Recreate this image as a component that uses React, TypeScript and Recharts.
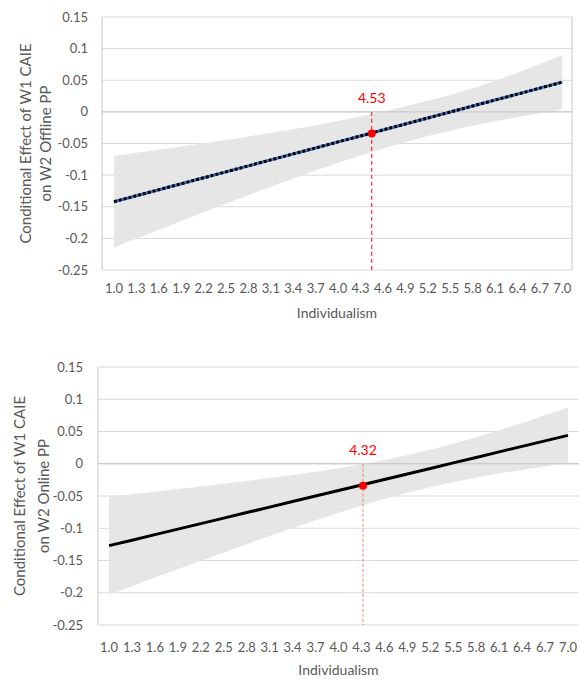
import {
  ComposedChart,
  Area,
  Line,
  XAxis,
  YAxis,
  CartesianGrid,
  ReferenceLine,
  ReferenceDot,
  Label,
} from 'recharts';

const individualism = [
  1.0, 1.3, 1.6, 1.9, 2.2, 2.5, 2.8, 3.1, 3.4, 3.7, 4.0, 4.3, 4.6, 4.9, 5.2, 5.5, 5.8, 6.1, 6.4, 6.7, 7.0,
];
const yTicks = [-0.25, -0.2, -0.15, -0.1, -0.05, 0, 0.05, 0.1, 0.15];

// W2 Offline PP
const offlineEffect = [
  -0.142, -0.1326, -0.1231, -0.1137, -0.1042, -0.0948, -0.0853, -0.0759, -0.0664, -0.057, -0.0475,
  -0.0381, -0.0286, -0.0192, -0.0097, -0.0003, 0.0092, 0.0187, 0.0281, 0.0376, 0.047,
];
const offlineLower = [
  -0.2143, -0.2003, -0.1864, -0.1725, -0.1588, -0.1452, -0.1317, -0.1184, -0.1054, -0.0928, -0.0805,
  -0.0688, -0.0578, -0.0476, -0.0383, -0.0298, -0.022, -0.0149, -0.0084, -0.0023, 0.0036,
];
const offlineUpper = [
  -0.0697, -0.0648, -0.0598, -0.0548, -0.0496, -0.0443, -0.0389, -0.0333, -0.0274, -0.0211, -0.0145,
  -0.0073, 0.0006, 0.0088, 0.0175, 0.0268, 0.0372, 0.049, 0.062, 0.0758, 0.0898,
];

// W2 Online PP
const onlineEffect = [
  -0.127, -0.1185, -0.1099, -0.1014, -0.0928, -0.0843, -0.0757, -0.0672, -0.0586, -0.0501, -0.0415,
  -0.033, -0.0244, -0.0159, -0.0073, 0.0013, 0.0098, 0.0184, 0.0269, 0.0355, 0.044,
];
const onlineLower = [
  -0.203, -0.1898, -0.1765, -0.1634, -0.1504, -0.1375, -0.1247, -0.1121, -0.0998, -0.0877, -0.0762,
  -0.0651, -0.0547, -0.0451, -0.0363, -0.0285, -0.0215, -0.0152, -0.0095, -0.0043, 0.0006,
];
const onlineUpper = [
  -0.051, -0.0472, -0.0433, -0.0393, -0.0352, -0.0311, -0.0267, -0.0222, -0.0174, -0.0124, -0.0068,
  -0.0008, 0.0059, 0.0134, 0.0217, 0.031, 0.0411, 0.0519, 0.0633, 0.0752, 0.0874,
];

const FONT = 'Lato, "Open Sans", sans-serif';
const TEXT = '#595959';
const GRID = '#d9d9d9';

function buildRows(effect: number[], lower: number[], upper: number[]) {
  return individualism.map((x, i) => ({
    x,
    effect: effect[i],
    band: [lower[i], upper[i]],
  }));
}

function YTitle({ viewBox, lines, xs }: { viewBox?: any; lines: string[]; xs: number[] }) {
  const cy = viewBox.y + viewBox.height / 2;
  return (
    <g>
      {lines.map((line, i) => (
        <text
          key={line}
          x={xs[i]}
          y={cy}
          transform={`rotate(-90 ${xs[i]} ${cy})`}
          textAnchor="middle"
          dominantBaseline="central"
          fill={TEXT}
          fontSize={15}
          fontFamily={FONT}
        >
          {line}
        </text>
      ))}
    </g>
  );
}

interface EffectChartProps {
  height: number;
  margin: { top: number; right: number; bottom: number; left: number };
  yAxisWidth: number;
  yTickMargin: number;
  xTickMargin: number;
  xTitleOffset: number;
  xDomain: [number, number];
  titleLines: string[];
  titleXs: number[];
  effect: number[];
  lower: number[];
  upper: number[];
  markerX: number;
  markerY: number;
  markerLabel: string;
  dashed: boolean;
  guideColor: string;
  guideDash: string;
  boxed: boolean;
}

function EffectChart(p: EffectChartProps) {
  const rows = buildRows(p.effect, p.lower, p.upper);
  return (
    <ComposedChart width={579} height={p.height} data={rows} margin={p.margin}>
      <CartesianGrid horizontal vertical={false} stroke={GRID} strokeWidth={1} />
      <XAxis
        dataKey="x"
        type="number"
        domain={p.xDomain}
        ticks={individualism}
        interval={0}
        tickFormatter={(v: number) => v.toFixed(1)}
        axisLine={false}
        tickLine={false}
        tickSize={0}
        tickMargin={p.xTickMargin}
        height={46}
        tick={{ fill: TEXT, fontSize: 13, fontFamily: FONT }}
      >
        <Label
          value="Individualism"
          position="insideBottom"
          offset={p.xTitleOffset}
          fill={TEXT}
          fontSize={14}
          fontFamily={FONT}
        />
      </XAxis>
      <YAxis
        type="number"
        domain={[-0.25, 0.15]}
        ticks={yTicks}
        interval={0}
        allowDataOverflow
        tickFormatter={(v: number) => String(v)}
        width={p.yAxisWidth}
        axisLine={{ stroke: '#c8c8c8' }}
        tickLine={false}
        tickSize={0}
        tickMargin={p.yTickMargin}
        tick={{ fill: TEXT, fontSize: 13, fontFamily: FONT }}
      >
        <Label content={(props: any) => <YTitle {...props} lines={p.titleLines} xs={p.titleXs} />} />
      </YAxis>
      <Area
        dataKey="band"
        type="linear"
        fill="#e6e6e6"
        fillOpacity={1}
        stroke="none"
        isAnimationActive={false}
      />
      <ReferenceLine y={0} stroke="#c4c4c4" strokeWidth={1} />
      {p.boxed && <ReferenceLine x={p.xDomain[1]} stroke="#c8c8c8" />}
      {p.dashed ? (
        <Line
          dataKey="effect"
          type="linear"
          stroke="#4472c4"
          strokeWidth={3}
          dot={false}
          isAnimationActive={false}
        />
      ) : null}
      <Line
        dataKey="effect"
        type="linear"
        stroke="#000000"
        strokeWidth={3}
        strokeDasharray={p.dashed ? '3 2' : undefined}
        dot={false}
        isAnimationActive={false}
      />
      <ReferenceLine
        segment={[
          { x: p.markerX, y: 0 },
          { x: p.markerX, y: -0.25 },
        ]}
        stroke={p.guideColor}
        strokeWidth={1}
        strokeDasharray={p.guideDash}
      >
        <Label
          value={p.markerLabel}
          position="top"
          offset={9}
          fill="#ff0000"
          fontSize={14}
          fontFamily={FONT}
        />
      </ReferenceLine>
      <ReferenceDot x={p.markerX} y={p.markerY} r={4} fill="#ff0000" stroke="none" />
    </ComposedChart>
  );
}

export default function App() {
  return (
    <div style={{ position: 'absolute', left: 0, top: 0, width: 579, height: 679, background: '#fff' }}>
      <EffectChart
        height={340}
        margin={{ top: 17, right: 7, bottom: 24, left: 0 }}
        yAxisWidth={102}
        yTickMargin={14}
        xTickMargin={14}
        xTitleOffset={-2}
        xDomain={[0.84, 7.13]}
        titleLines={['Conditional Effect of W1 CAIE', 'on W2 Offline PP']}
        titleXs={[25, 45]}
        effect={offlineEffect}
        lower={offlineLower}
        upper={offlineUpper}
        markerX={4.45}
        markerY={-0.034}
        markerLabel="4.53"
        dashed
        guideColor="#ff0000"
        guideDash="4 3"
        boxed
      />
      <EffectChart
        height={339}
        margin={{ top: 27, right: 0, bottom: 8, left: 0 }}
        yAxisWidth={98}
        yTickMargin={15}
        xTickMargin={18}
        xTitleOffset={-4}
        xDomain={[0.856, 7.144]}
        titleLines={['Conditional Effect of W1 CAIE', 'on W2 Online PP']}
        titleXs={[19, 43]}
        effect={onlineEffect}
        lower={onlineLower}
        upper={onlineUpper}
        markerX={4.32}
        markerY={-0.034}
        markerLabel="4.32"
        dashed={false}
        guideColor="#f08080"
        guideDash="3 2"
        boxed={false}
      />
    </div>
  );
}
